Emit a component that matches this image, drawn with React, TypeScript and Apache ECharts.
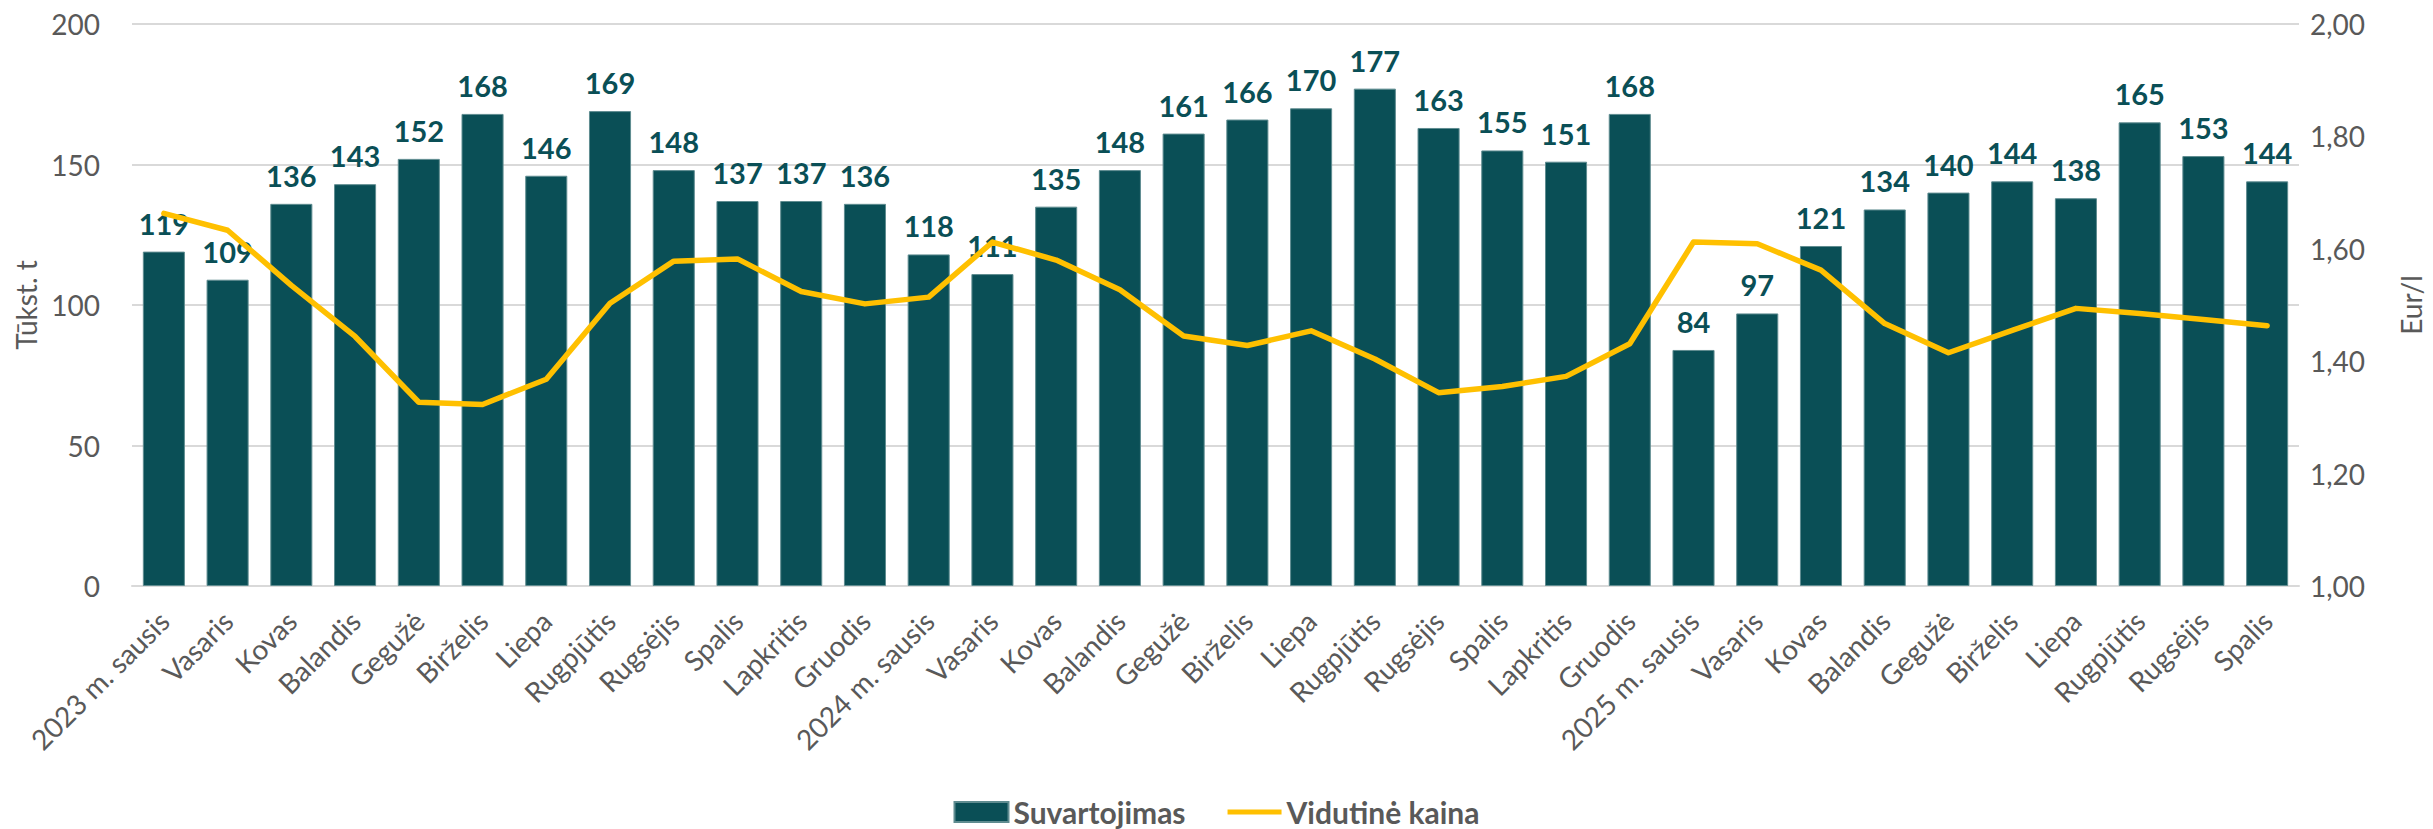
import React, { useEffect, useRef } from "react";
import * as echarts from "echarts";

const categories: string[] = [
  "2023 m. sausis", "Vasaris", "Kovas", "Balandis", "Gegužė", "Birželis", "Liepa", "Rugpjūtis", "Rugsėjis", "Spalis", "Lapkritis", "Gruodis",
  "2024 m. sausis", "Vasaris", "Kovas", "Balandis", "Gegužė", "Birželis", "Liepa", "Rugpjūtis", "Rugsėjis", "Spalis", "Lapkritis", "Gruodis",
  "2025 m. sausis", "Vasaris", "Kovas", "Balandis", "Gegužė", "Birželis", "Liepa", "Rugpjūtis", "Rugsėjis", "Spalis",
];

const consumption: number[] = [
  119, 109, 136, 143, 152, 168, 146, 169, 148, 137, 137, 136,
  118, 111, 135, 148, 161, 166, 170, 177, 163, 155, 151, 168,
  84, 97, 121, 134, 140, 144, 138, 165, 153, 144,
];

const avgPrice: number[] = [
  1.663, 1.633, 1.535, 1.444, 1.327, 1.323, 1.368, 1.503, 1.578, 1.582, 1.524, 1.502,
  1.514, 1.612, 1.58, 1.527, 1.445, 1.428, 1.454, 1.404, 1.344, 1.355, 1.373, 1.431,
  1.612, 1.609, 1.562, 1.467, 1.415, 1.455, 1.494, 1.485, 1.474, 1.463,
];

const leftTicks = { min: 0, max: 200, interval: 50 };
const rightTicks = { min: 1.0, max: 2.0, interval: 0.2 };

const FONT = "Lato, 'Noto Sans', sans-serif";
const TEAL = "#0A4F56";
const GOLD = "#FFC000";
const GRAY = "#595959";

export default function App() {
  const ref = useRef<HTMLDivElement>(null);
  useEffect(() => {
    if (!ref.current) return;
    const chart = echarts.init(ref.current, undefined, { renderer: "svg" });
    chart.setOption({
      animation: false,
      backgroundColor: "#ffffff",
      textStyle: { fontFamily: FONT },
      grid: { left: 132, right: 132, top: 24, bottom: 243, containLabel: false },
      legend: {
        top: 797,
        left: "center",
        padding: 0,
        itemGap: 42,
        itemWidth: 54,
        itemHeight: 20,
        textStyle: { fontFamily: FONT, fontSize: 30, lineHeight: 30, fontWeight: "bold", color: GRAY },
        data: [
          { name: "Suvartojimas", icon: "rect" },
          { name: "Vidutinė kaina", icon: "path://M0,0 L11,0 L11,1 L0,1 Z", itemStyle: { color: GOLD } },
        ],
      },
      xAxis: {
        type: "category",
        data: categories,
        axisTick: { show: false },
        axisLine: { show: true, lineStyle: { color: "#d9d9d9", width: 2 } },
        axisLabel: {
          rotate: 45,
          interval: 0,
          margin: 30,
          fontSize: 28,
          color: GRAY,
          fontFamily: FONT,
        },
      },
      yAxis: [
        {
          type: "value",
          min: leftTicks.min,
          max: leftTicks.max,
          interval: leftTicks.interval,
          name: "Tūkst. t",
          nameLocation: "middle",
          nameRotate: 90,
          nameGap: 90,
          nameTextStyle: { fontSize: 28, color: GRAY, fontFamily: FONT },
          axisLine: { show: false },
          axisTick: { show: false },
          axisLabel: { fontSize: 28, color: GRAY, margin: 32, fontFamily: FONT },
          splitLine: { lineStyle: { color: "#d9d9d9", width: 2 } },
        },
        {
          type: "value",
          min: rightTicks.min,
          max: rightTicks.max,
          interval: rightTicks.interval,
          name: "Eur/l",
          nameLocation: "middle",
          nameRotate: 90,
          nameGap: 98,
          nameTextStyle: { fontSize: 28, color: GRAY, fontFamily: FONT },
          axisLine: { show: false },
          axisTick: { show: false },
          splitLine: { show: false },
          axisLabel: {
            fontSize: 28,
            color: GRAY,
            margin: 11,
            fontFamily: FONT,
            formatter: (v: number) => v.toFixed(2).replace(".", ","),
          },
        },
      ],
      series: [
        {
          name: "Suvartojimas",
          type: "bar",
          data: consumption,
          barCategoryGap: "34%",
          itemStyle: { color: TEAL, borderColor: "#5f8c90", borderWidth: 1 },
          label: {
            show: true,
            position: "top",
            distance: 14,
            color: TEAL,
            fontSize: 29,
            fontWeight: "bold",
            fontFamily: FONT,
          },
        },
        {
          name: "Vidutinė kaina",
          type: "line",
          yAxisIndex: 1,
          data: avgPrice,
          symbol: "none",
          lineStyle: { color: GOLD, width: 5.5, join: "round", cap: "round" },
          itemStyle: { color: GOLD },
          z: 3,
        },
      ],
    });
    return () => chart.dispose();
  }, []);
  return (
    <div
      ref={ref}
      style={{ position: "fixed", left: 0, top: 0, width: 2433, height: 829 }}
    />
  );
}
